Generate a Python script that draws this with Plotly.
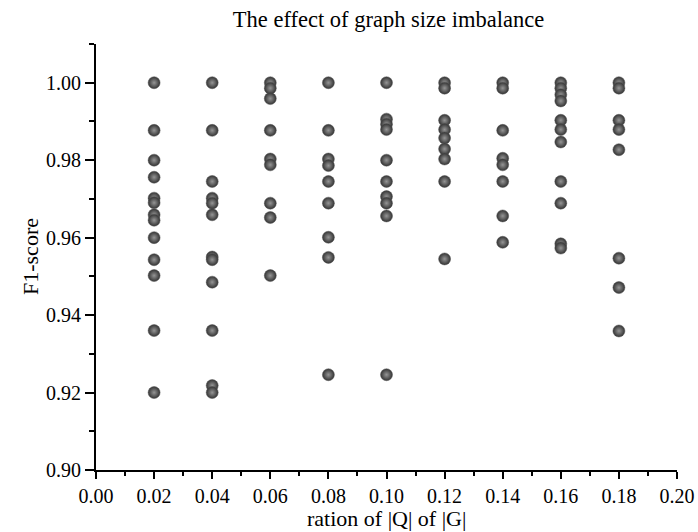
import plotly.graph_objects as go

ratios = [0.02, 0.04, 0.06, 0.08, 0.10, 0.12, 0.14, 0.16, 0.18]

f1_002 = [1.000, 0.9877, 0.980, 0.9756, 0.9702, 0.969, 0.9659, 0.9645, 0.960, 0.9543, 0.9502, 0.936, 0.920]
f1_004 = [1.000, 0.9877, 0.9745, 0.9702, 0.9689, 0.9659, 0.9550, 0.9543, 0.9485, 0.936, 0.9218, 0.920]
f1_006 = [1.000, 0.9986, 0.9959, 0.9877, 0.9803, 0.9788, 0.9689, 0.9652, 0.9502]
f1_008 = [1.000, 0.9877, 0.9803, 0.9786, 0.9745, 0.9689, 0.9601, 0.9549, 0.9246]
f1_010 = [1.000, 0.9906, 0.9893, 0.9879, 0.980, 0.9745, 0.9706, 0.9689, 0.9656, 0.9246]
f1_012 = [1.000, 0.9986, 0.9903, 0.9879, 0.9857, 0.9829, 0.9803, 0.9745, 0.9545]
f1_014 = [1.000, 0.9986, 0.9877, 0.9805, 0.9788, 0.9745, 0.9656, 0.9588]
f1_016 = [1.000, 0.9986, 0.9969, 0.9953, 0.9903, 0.9879, 0.9847, 0.9745, 0.9689, 0.9584, 0.9573]
f1_018 = [1.000, 0.9986, 0.9903, 0.9879, 0.9827, 0.9547, 0.9471, 0.9359]

columns = [f1_002, f1_004, f1_006, f1_008, f1_010, f1_012, f1_014, f1_016, f1_018]

x_tick_vals = [0.00, 0.02, 0.04, 0.06, 0.08, 0.10, 0.12, 0.14, 0.16, 0.18, 0.20]
y_tick_vals = [0.90, 0.92, 0.94, 0.96, 0.98, 1.00]

title_text = "The effect of graph size imbalance"
x_title = "ration of |Q| of |G|"
y_title = "F1-score"

xs, ys = [], []
for r, col in zip(ratios, columns):
    for v in col:
        xs.append(r)
        ys.append(v)

FONT = "Liberation Serif"

fig = go.Figure()
fig.add_trace(go.Scatter(
    x=xs, y=ys, mode="markers",
    marker=dict(size=12, color="#333333",
                gradient=dict(type="radial", color="#959595"),
                line=dict(width=0.5, color="#555555")),
    showlegend=False, hoverinfo="x+y",
))

axis_common = dict(
    showgrid=False, zeroline=False, showline=True, linecolor="black", linewidth=2,
    ticks="outside", tickwidth=2, tickcolor="black",
    tickfont=dict(family=FONT, size=20, color="black"),
    mirror=False, automargin=False,
)

fig.update_xaxes(
    range=[0.0, 0.20], tickvals=x_tick_vals, tickformat=".2f", ticklen=7,
    minor=dict(ticks="outside", ticklen=4, tickwidth=2, tickcolor="black", dtick=0.01, tick0=0),
    **axis_common,
)
fig.update_yaxes(
    range=[0.90, 1.01], tickvals=y_tick_vals, tickformat=".2f", ticklen=9,
    minor=dict(ticks="outside", ticklen=5, tickwidth=2, tickcolor="black", dtick=0.01, tick0=0.9),
    **axis_common,
)

W, H = 698, 532
L, R, T, B = 96, 21, 44, 62

fig.add_annotation(text=x_title, xref="paper", yref="paper", x=0.5, y=0,
                   xanchor="center", yanchor="middle", yshift=-48, showarrow=False,
                   font=dict(family=FONT, size=22, color="black"))
fig.add_annotation(text=y_title, xref="paper", yref="paper", x=0, y=0.5,
                   xanchor="center", yanchor="middle", xshift=-66, textangle=-90,
                   showarrow=False, font=dict(family=FONT, size=22, color="black"))

fig.update_layout(
    width=W, height=H,
    margin=dict(l=L, r=R, t=T, b=B, pad=0),
    paper_bgcolor="white", plot_bgcolor="white",
    title=dict(text=title_text, x=(L + (W - L - R) / 2 + 2) / W,
               xanchor="center", y=1 - 19 / H, yanchor="middle",
               font=dict(family=FONT, size=22.5, color="black")),
)

fig.write_html(
    "out.html",
    config={"displayModeBar": False},
    post_script="document.body.style.margin='0';document.body.style.overflow='hidden';",
)
